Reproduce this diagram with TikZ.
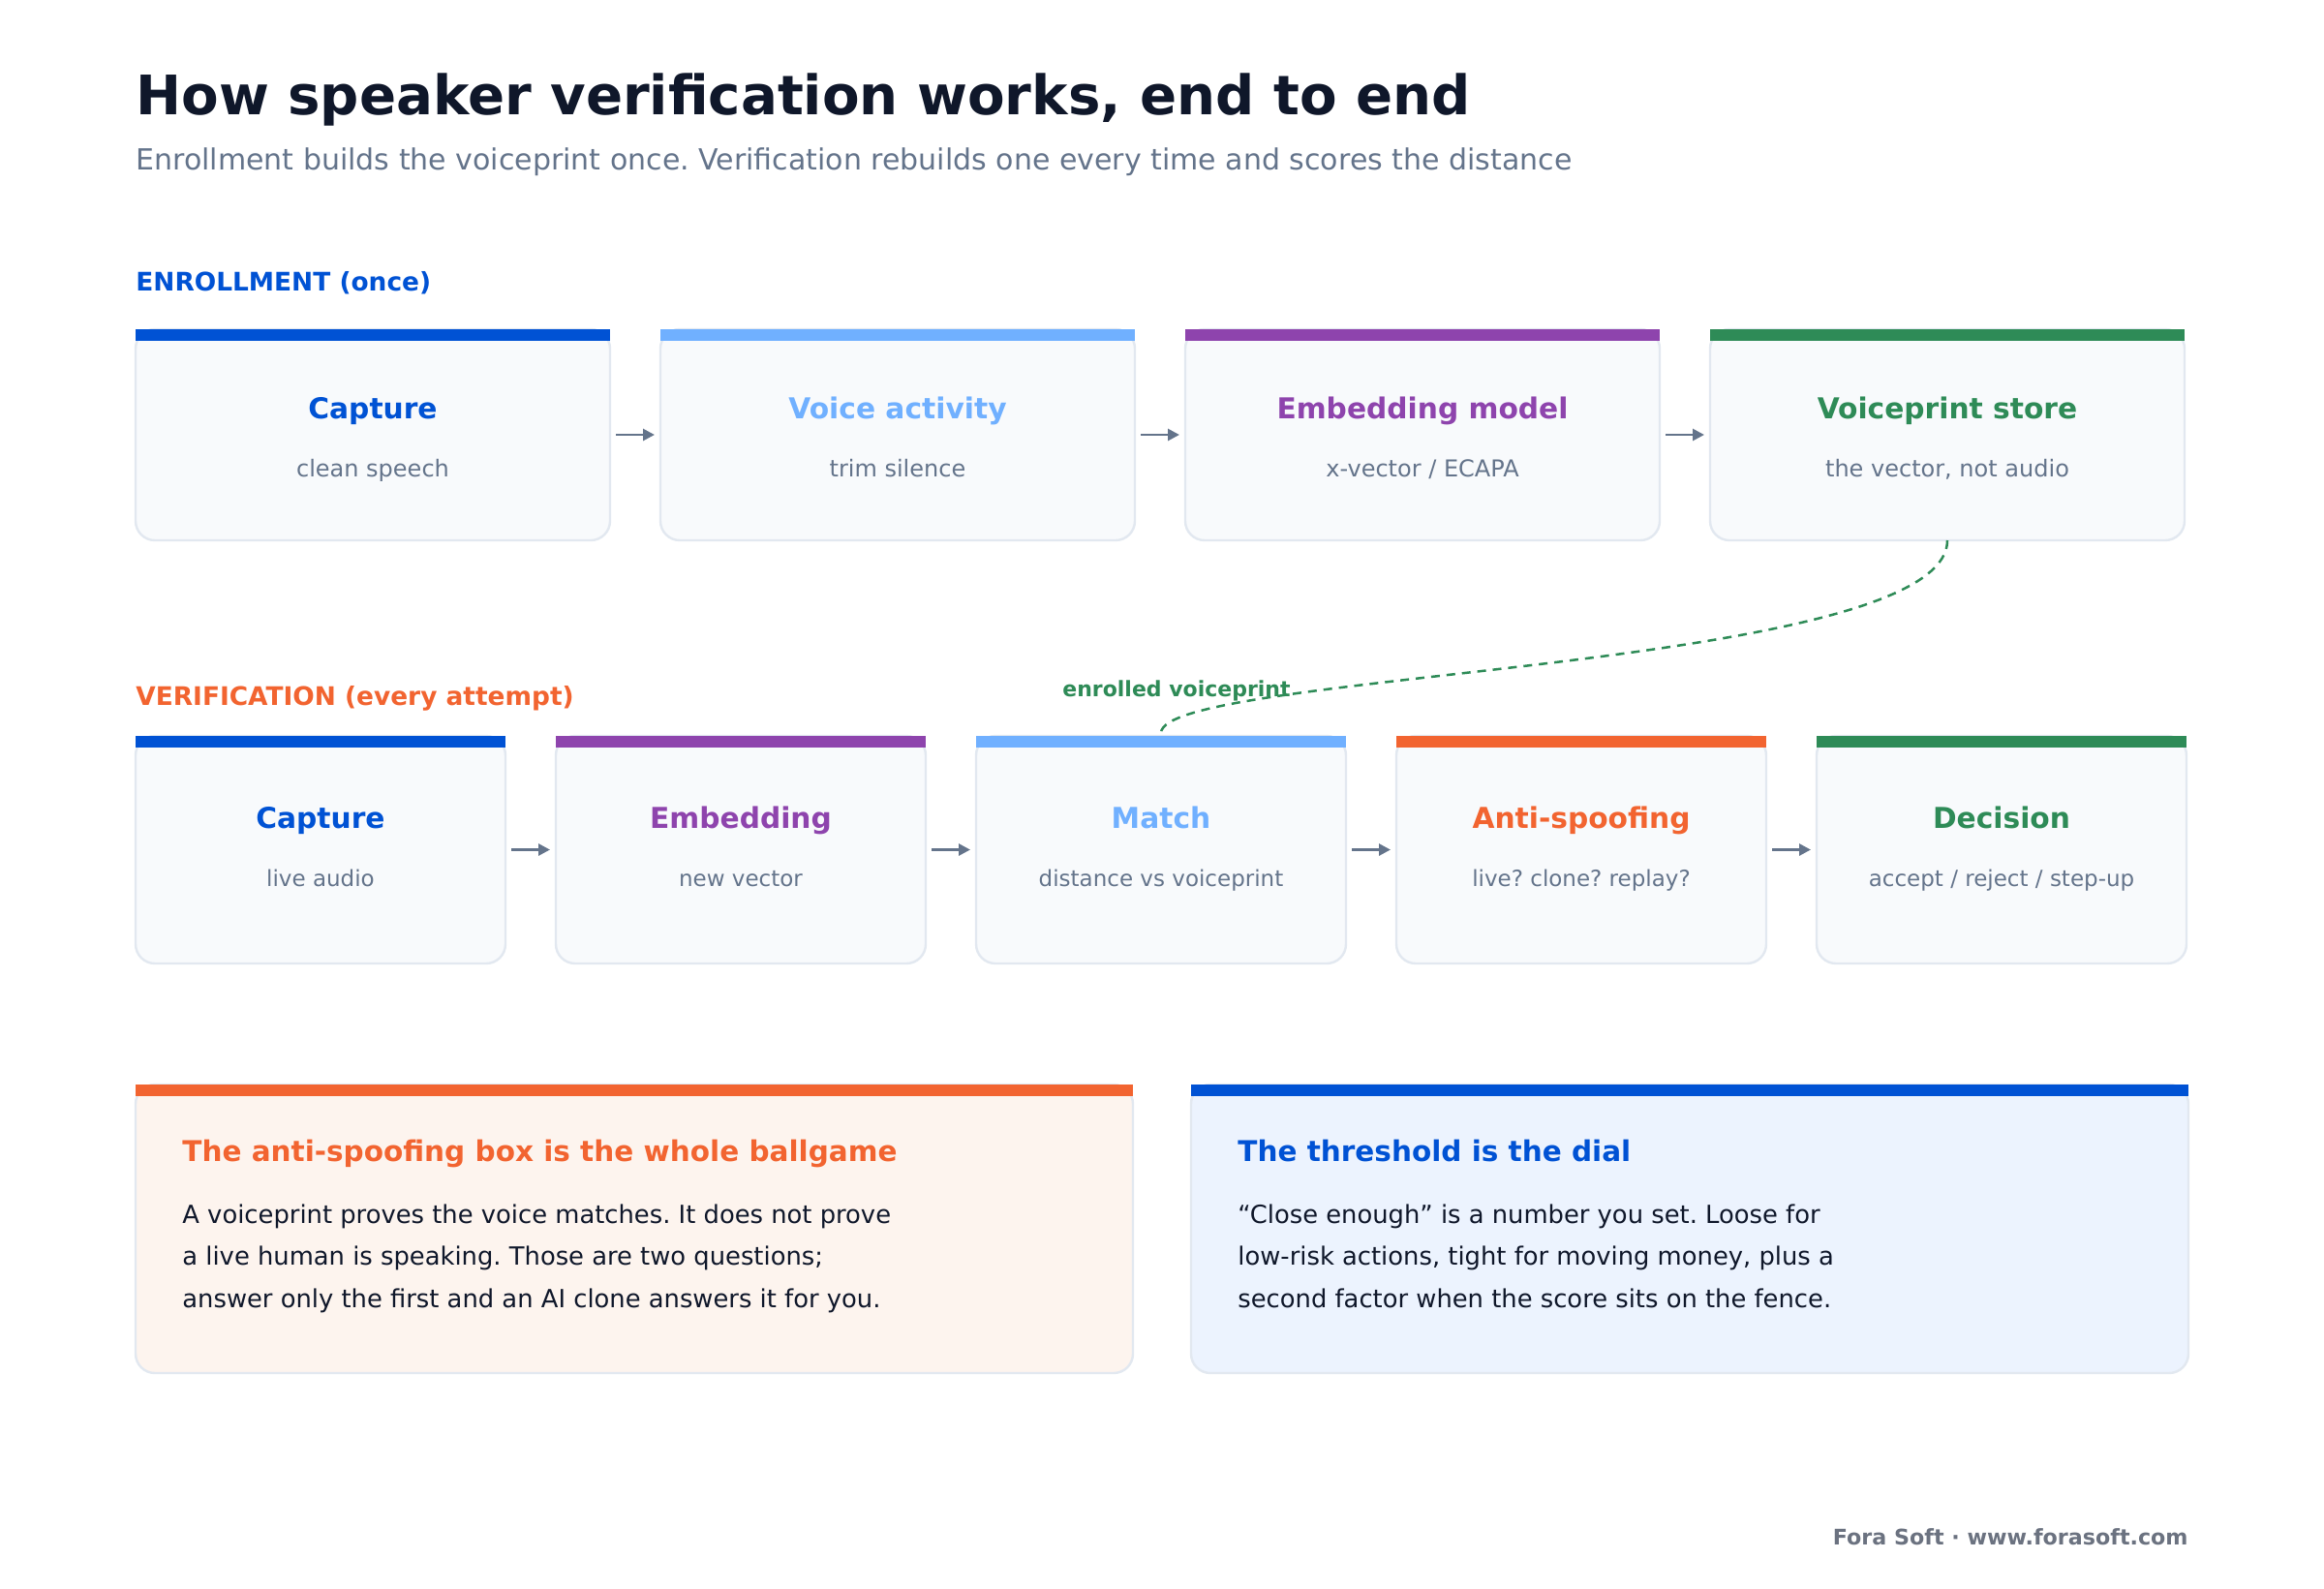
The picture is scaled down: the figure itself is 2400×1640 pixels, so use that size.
\documentclass[tikz,border=0pt]{standalone}
\usepackage{fontspec}
\setmainfont{DejaVu Sans}
\usetikzlibrary{arrows.meta}

\definecolor{ink}{HTML}{0F172A}
\definecolor{slate}{HTML}{64748B}
\definecolor{cardfill}{HTML}{F8FAFC}
\definecolor{cardline}{HTML}{E2E8F0}
\definecolor{capblue}{HTML}{0052D4}
\definecolor{skyblue}{HTML}{70B0FF}
\definecolor{plum}{HTML}{8E44AD}
\definecolor{leaf}{HTML}{2E8B57}
\definecolor{flame}{HTML}{F26430}
\definecolor{peach}{HTML}{FDF4EE}
\definecolor{icefill}{HTML}{ECF3FE}
\definecolor{footgray}{HTML}{6B7280}

\tikzset{
  card/.style={draw=cardline, fill=cardfill, line width=1.2pt, rounded corners=10pt,
    inner sep=0pt, outer sep=0pt},
  panel/.style={card, minimum width=515pt, minimum height=149pt, anchor=north west},
  label/.style={inner sep=0pt},
  cardttl/.style={label, anchor=base, font=\fontsize{14.85}{18}\selectfont\bfseries},
  cardsub/.style={label, anchor=base, text=slate},
  flow/.style={draw=slate, line width=1.4pt, shorten <=3pt, shorten >=3pt,
    -{Triangle[length=6pt,width=6pt]}},
  seclabel/.style={label, anchor=base west, font=\fontsize{13.2}{16}\selectfont\bfseries},
  body/.style={label, anchor=base west, text=ink, font=\fontsize{12.9}{15}\selectfont},
  notetitle/.style={label, anchor=base west, font=\fontsize{14.75}{17}\selectfont\bfseries},
}

\begin{document}
\frenchspacing
\begin{tikzpicture}[x=0.5pt, y=-0.5pt]
    \useasboundingbox[fill=white] (0,0) rectangle (2400,1640);

    % heading
    \node[label, anchor=base west, text=ink, font=\fontsize{28.1}{34}\selectfont\bfseries] (title) at (140,118)
        {How speaker verification works, end to end};
    \node[label, anchor=base west, text=slate, font=\fontsize{15}{18}\selectfont] (subtitle) at (140,175)
        {Enrollment builds the voiceprint once. Verification rebuilds one every time and scores the distance};

    % enrollment row
    \node[seclabel, text=capblue] (enrlabel) at (140,300) {ENROLLMENT (once)};
    \foreach \i/\nm/\col/\ttl/\sub in {0/ecap/capblue/Capture/clean speech,
        1/evad/skyblue/Voice activity/trim silence,
        2/eemb/plum/Embedding model/{x-vector / ECAPA},
        3/estore/leaf/Voiceprint store/{the vector, not audio}} {
        \node[card, minimum width=245pt, minimum height=109pt, anchor=north west] (\nm) at ({140+542*\i},340) {};
        \fill[\col] (\nm.north west) rectangle ([yshift=-6pt]\nm.north east);
        \node[cardttl, text=\col] (\nm-t) at ([yshift=-46pt]\nm.north) {\ttl};
        \node[cardsub, font=\fontsize{12}{14}\selectfont] (\nm-s) at ([yshift=-76pt]\nm.north) {\sub};
    }
    \foreach \a/\b in {ecap/evad, evad/eemb, eemb/estore}
        \draw[flow] (\a) -- (\b);

    % verification row
    \node[seclabel, text=flame] (verlabel) at (140,728) {VERIFICATION (every attempt)};
    \foreach \i/\nm/\col/\ttl/\sub in {0/vcap/capblue/Capture/live audio,
        1/vemb/plum/Embedding/new vector,
        2/vmatch/skyblue/Match/distance vs voiceprint,
        3/vspoof/flame/Anti-spoofing/live? clone? replay?,
        4/vdec/leaf/Decision/{accept / reject / step-up}} {
        \node[card, minimum width=191pt, minimum height=117.5pt, anchor=north west] (\nm) at ({140+434*\i},760) {};
        \fill[\col] (\nm.north west) rectangle ([yshift=-6pt]\nm.north east);
        \node[cardttl, text=\col] (\nm-t) at ([yshift=-47.5pt]\nm.north) {\ttl};
        \node[cardsub, font=\fontsize{11.5}{14}\selectfont] (\nm-s) at ([yshift=-77.5pt]\nm.north) {\sub};
    }
    \foreach \a/\b in {vcap/vemb, vemb/vmatch, vmatch/vspoof, vspoof/vdec}
        \draw[flow] (\a) -- (\b);

    % stored voiceprint feeds the match
    \draw[leaf, line width=1.25pt, dash pattern=on 4.5pt off 3.5pt]
        (estore.south) .. controls +(0,135) and +(0,-64) .. ([yshift=1.5pt]vmatch.north);
    \node[label, anchor=base, text=leaf, font=\fontsize{11}{13}\selectfont\bfseries] (enrolled) at (1215,719)
        {enrolled voiceprint};

    % takeaways
    \node[panel, fill=peach] (spoofnote) at (140,1120) {};
    \fill[flame] (spoofnote.north west) rectangle ([yshift=-6pt]spoofnote.north east);
    \node[notetitle, text=flame] (spoofnote-t) at (188,1199)
        {The anti-spoofing box is the whole ballgame};
    \foreach \k/\line in {0/A voiceprint proves the voice matches. It does not prove,
        1/a live human is speaking. Those are two questions;,
        2/answer only the first and an AI clone answers it for you.}
        \node[body] (spoofnote-\k) at (188,{1263+43.5*\k}) {\line};

    \node[panel, fill=icefill] (dialnote) at (1230,1120) {};
    \fill[capblue] (dialnote.north west) rectangle ([yshift=-6pt]dialnote.north east);
    \node[notetitle, text=capblue] (dialnote-t) at (1278,1199)
        {The threshold is the dial};
    \foreach \k/\line in {0/“Close enough” is a number you set. Loose for,
        1/{low-risk actions, tight for moving money, plus a},
        2/second factor when the score sits on the fence.}
        \node[body] (dialnote-\k) at (1278,{1263+43.5*\k}) {\line};

    % footer
    \node[label, anchor=base east, text=footgray, font=\fontsize{11.1}{13}\selectfont\bfseries] (footer) at (2260,1595)
        {Fora Soft · www.forasoft.com};
\end{tikzpicture}
\end{document}
